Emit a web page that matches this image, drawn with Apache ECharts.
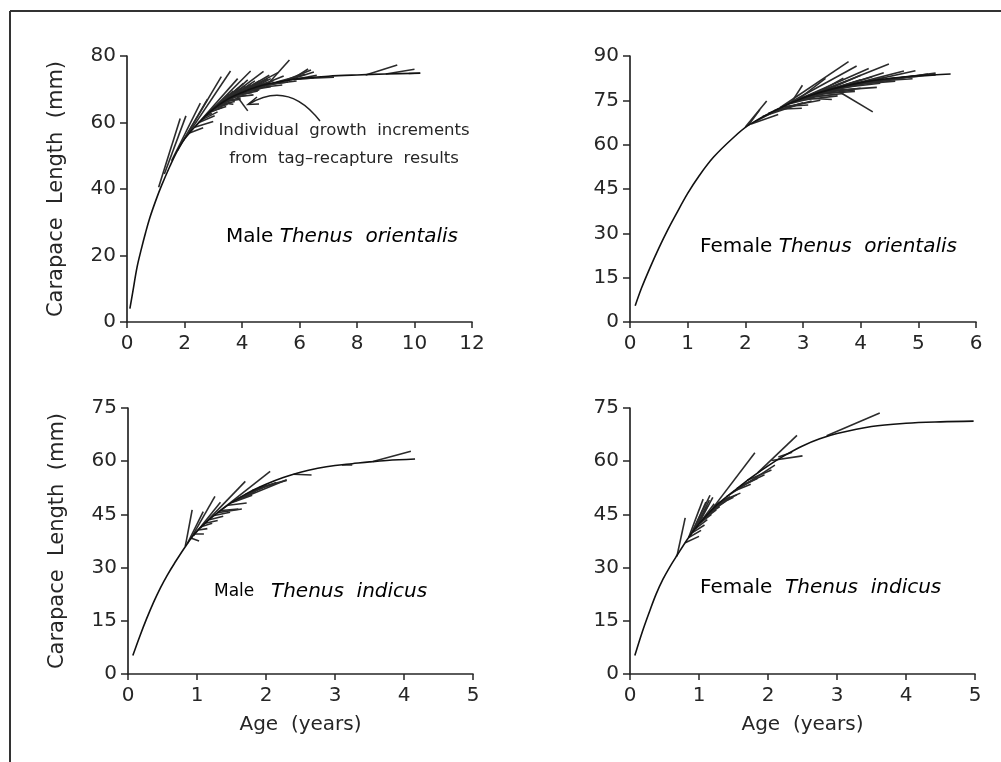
<!DOCTYPE html>
<html><head><meta charset="utf-8">
<script src="https://cdn.jsdelivr.net/npm/echarts@6/dist/echarts.min.js"></script>
<style>html,body{margin:0;padding:0;background:#fff}#c{width:1001px;height:762px}</style>
</head><body><div id="c"></div>
<script>
// ---- Tick settings ----
const xTicksTop = {left:[0,12,2], right:[0,6,1]};
const xTicksBottom = [0,5,1];
const yTicksTop = {left:[0,80,20], right:[0,90,15]};
const yTicksBottom = [0,75,15];

// ---- Male Thenus orientalis ----
const maleOriCurve = [[0.1,4],[0.2,9],[0.35,16.5],[0.5,22],[0.65,27],[0.8,31.5],[1.0,36.5],[1.2,41],[1.5,47],[1.75,51.5],[2,55],[2.5,60],[3,64],[3.5,67],[4,69],[4.5,70.7],[5,71.8],[6,73.2],[7,73.9],[8,74.3],[9,74.6],[10.2,74.8]];
const maleOriSegs = [
[1.1,40.5,1.85,61.2],[1.3,44.5,2.05,62],[1.55,48.5,2.55,65.8],[1.75,51.5,2.8,67],[1.95,54.5,3.28,73.8],
[2.15,56.8,3.6,75.5],[2.4,59,3.85,73.2],[2.6,60.8,4.3,75.5],[2.8,62.5,4.05,71.8],[3.0,64,4.75,75.4],
[3.2,65.3,4.45,72.5],[3.4,66.4,4.95,74.2],[3.55,67.2,5.25,75],[3.7,67.9,4.9,73],[3.9,68.6,5.45,74],
[4.1,69.3,5.1,72.6],[4.3,69.9,5.0,73.2],
[2.15,56.8,2.65,58.4],[2.35,58.6,3.0,60.3],[2.5,60,3.05,62],[2.7,61.7,2.95,62.8],[2.9,63.3,3.45,64.8],
[3.1,64.6,3.6,66],[3.3,65.9,3.7,65.5],[3.35,66.2,3.95,67],[3.8,68.2,4.2,63.5],[3.6,67.5,4.4,68.3],
[3.75,68,4.55,69.5],[3.95,68.8,4.7,70.4],[4.2,69.6,5.0,70.8],[4.4,70.3,5.4,71.3],[4.6,70.9,5.6,72.2],
[4.7,71.1,5.1,71.5],[4.9,71.6,5.65,78.8],[5.5,72.6,6.4,75.8],[5.6,72.7,6.5,75.2],[5.7,72.8,6.3,76.1],
[5.8,72.9,6.6,74.2],[5.9,73,6.5,73.4],[6.0,73.2,7.2,73.6],[8.3,74.3,9.4,77.3],[9.0,74.6,10.0,76],[9.8,74.75,10.2,74.9],
[3.05,64.4,3.9,70.5],[3.25,65.6,4.1,71],[3.45,66.7,4.3,71.5],[3.65,67.7,4.6,72.5],[3.85,68.4,4.7,71.8],
[4.05,69.1,4.9,72],[3.15,65,3.8,68],[3.5,67,4.2,69.5],[3.7,67.9,4.5,70.2],[4.0,69,4.8,70.8],
[4.5,70.7,5.3,72],[2.95,63.6,3.7,69.5],[3.35,66.2,4.2,72.8],[2.75,62.2,3.55,68.5],[4.8,71.4,5.9,72.5],[5.2,72.2,6.2,74.5],
[3.0,64,3.5,65.5],[3.2,65.3,3.75,66.3],[3.4,66.4,3.95,67.4],[3.6,67.5,4.15,68.2],[3.8,68.2,4.35,69],
[4.0,69,4.6,69.8],[3.1,64.6,3.7,67.2],[3.3,65.9,3.9,68.3],[3.5,67,4.1,69.3],[3.7,67.9,4.3,70.2],
[3.9,68.6,4.5,71],[2.85,62.9,3.3,64.5],[2.6,60.8,3.15,63.2]
];

// ---- Female Thenus orientalis ----
const femOriCurve = [[0.09,5.5],[0.2,11.5],[0.35,18.5],[0.5,25],[0.65,31],[0.8,36.5],[1.0,43.5],[1.2,49.5],[1.45,55.8],[1.8,62.5],[2.05,66.5],[2.5,71.5],[3.0,75.8],[3.5,78.8],[4.0,81],[4.5,82.4],[5.0,83.3],[5.56,83.9]];
const femOriSegs = [
[2.6,72.5,3.79,88.1],[2.75,74,3.93,86.6],[2.95,75.5,4.14,85.8],[3.1,76.5,4.49,87.3],[3.3,77.7,4.75,84.9],
[3.5,78.8,4.95,85],[3.7,79.7,5.17,83.9],[3.9,80.6,5.3,84.2],[3.6,79.3,4.4,84.3],[2.9,75.1,3.39,82.4],
[2.8,74.3,2.99,80.1],[3.2,77.1,3.7,82.5],[3.35,78,4.0,83.5],
[3.67,77.4,4.21,71.1],[2.0,66,2.37,74.8],[2.05,66.5,2.25,71.8],[2.1,67,2.57,70.2],[2.15,67.6,2.6,72.2],
[2.3,69.5,2.9,73.4],[2.55,72,2.98,72.3],[2.65,72.9,3.09,73.4],[3.0,75.8,3.5,75.3],
[2.7,73.5,3.2,76],[2.85,74.8,3.6,76.5],[3.0,75.8,3.55,77],[3.15,76.8,3.9,78.5],[3.25,77.4,4.0,79.1],
[3.4,78.2,4.28,79.4],[3.55,79,4.34,80.8],[3.75,80,4.5,81.8],[4.0,81,4.8,82.8],[4.2,81.7,5.0,83.2],[4.5,82.4,5.3,83.6],
[2.8,74.3,3.6,78.5],[2.9,75.1,3.7,79.5],[3.05,76.2,3.85,80.2],[3.2,77.1,4.1,80.8],[2.7,73.5,3.4,79],
[2.95,75.5,3.75,81.5],[3.1,76.5,4.0,82],[3.3,77.7,4.2,83],[3.45,78.5,4.4,82.6],[2.6,72.5,3.3,75],
[3.0,75.8,3.7,77.3],[3.2,77.1,3.9,78],[2.5,71.5,3.15,74.8],[2.4,70.6,3.0,74.2],[3.8,80.2,4.6,81.5],[4.1,81.3,4.9,82.3]
];

// ---- Male Thenus indicus ----
const maleIndCurve = [[0.07,5.2],[0.17,10.6],[0.27,15.6],[0.37,20.2],[0.47,24.3],[0.57,27.9],[0.67,31.1],[0.83,35.9],[1.0,40.3],[1.25,44.7],[1.5,48.3],[1.75,51.2],[2.0,53.5],[2.25,55.4],[2.5,56.9],[2.75,58],[3.0,58.8],[3.25,59.3],[3.5,59.8],[3.75,60.2],[4.16,60.6]];
const maleIndSegs = [
[0.83,36,0.93,46.3],[0.86,36.8,1.09,45.8],[0.9,37.8,1.26,50.1],[0.95,39,1.34,48.4],[1.05,41.2,1.7,54.3],
[1.3,45.5,2.06,57.1],[1.55,48.8,2.3,54.8],[1.7,50.6,2.15,54],
[0.92,38.3,1.03,37.5],[0.97,39.6,1.1,39.6],[1.02,40.6,1.15,41],[1.07,41.6,1.22,42.5],[1.12,42.5,1.3,43.3],
[1.18,43.5,1.38,44.5],[1.25,44.7,1.48,45.6],[1.35,46.1,1.6,46.5],[1.3,45.5,1.65,46.5],[1.45,47.6,1.72,48.2],
[1.5,48.3,1.8,50.4],[1.55,48.8,1.85,51.5],[1.6,49.5,1.95,52.5],[1.8,51.7,2.15,53.8],[1.9,52.6,2.3,54.6],
[2.4,56.3,2.66,56.1],[3.1,59,3.25,59.1],[3.55,59.9,4.1,62.8]
];

// ---- Female Thenus indicus ----
const femIndCurve = [[0.07,5.2],[0.18,12],[0.29,18],[0.38,22.6],[0.48,26.8],[0.58,30.3],[0.68,33.4],[0.85,38.5],[1.0,42.3],[1.25,47.5],[1.5,51.5],[1.75,55.3],[2.0,58.7],[2.25,61.7],[2.5,64.3],[2.75,66.3],[3.0,67.8],[3.5,69.8],[4.0,70.7],[4.5,71.1],[4.98,71.3]];
const femIndSegs = [
[0.68,33.2,0.8,44],[0.8,37,1.0,38.8],[0.85,38.5,1.06,49.3],[0.88,39.3,1.16,50.4],[0.9,39.8,1.1,48.5],
[0.93,40.5,1.13,47.5],[0.95,41,1.05,44.5],[0.85,38.5,1.03,40.5],[0.9,39.8,1.08,42],[0.95,41,1.12,43.5],
[1.0,42.3,1.18,45],[1.05,43.4,1.25,46.3],[1.1,44.5,1.3,47.2],[1.15,45.5,1.38,48.6],[1.2,46.5,1.45,49.5],
[1.25,47.5,1.5,49.8],[1.3,48.3,1.45,50],[1.15,45.5,1.81,62.4],[1.4,50,2.1,58.9],[1.5,51.5,1.75,53.5],
[1.55,52.3,1.85,55.2],[1.6,53,1.95,56.2],[1.7,54.6,2.05,57.5],[1.85,56.7,2.42,67.3],[2.05,60.2,2.5,61.5],
[2.15,61.2,2.35,62.5],[2.85,67.2,3.62,73.6],
[0.92,40.2,1.15,49],[0.97,41.5,1.2,49.8],[1.02,42.8,1.22,48],[1.08,44,1.3,48.5],[1.3,48.3,1.55,50.5],[1.35,49,1.6,51]
];

const INK = '#262626';
const FONT = 'DejaVu Sans';
const grids = [
  {left:127, top:56, width:345, height:266},
  {left:630, top:56, width:346, height:266},
  {left:128, top:408, width:345, height:266},
  {left:630, top:408, width:345, height:266}
];
function xAxis(i, t, name){
  return {type:'value', gridIndex:i, min:t[0], max:t[1], interval:t[2],
    name:name||'', nameLocation:'middle', nameGap:41,
    nameTextStyle:{fontFamily:FONT, fontSize:20, color:INK},
    axisLine:{lineStyle:{color:INK, width:1.7}},
    axisTick:{show:true, inside:false, length:6, lineStyle:{color:INK, width:1.5}},
    axisLabel:{fontFamily:FONT, fontSize:20, color:INK, margin:12},
    splitLine:{show:false}};
}
function yAxis(i, t, name){
  return {type:'value', gridIndex:i, min:t[0], max:t[1], interval:t[2],
    name:name||'', nameLocation:'middle', nameGap:60, nameRotate:90,
    nameTextStyle:{fontFamily:FONT, fontSize:21, color:INK},
    axisLine:{show:true, lineStyle:{color:INK, width:1.7}},
    axisTick:{show:true, inside:false, length:7, lineStyle:{color:INK, width:1.5}},
    axisLabel:{fontFamily:FONT, fontSize:20, color:INK, margin:11},
    splitLine:{show:false}};
}
const yName = 'Carapace  Length  (mm)';
const xName = 'Age  (years)';
function curveSeries(i, data){
  return {type:'line', xAxisIndex:i, yAxisIndex:i, data:data, smooth:0.35, showSymbol:false, symbol:'none',
    lineStyle:{color:'#111', width:1.6}, silent:true, z:3};
}
function segSeries(i, segs){
  return {type:'lines', coordinateSystem:'cartesian2d', xAxisIndex:i, yAxisIndex:i,
    data:segs.map(s=>({coords:[[s[0],s[1]],[s[2],s[3]]]})),
    lineStyle:{color:'#2b2b2b', width:1.6, opacity:1}, silent:true, z:2};
}
const rich = {
  n:{fontFamily:FONT, fontSize:20, color:INK},
  s:{fontFamily:FONT, fontSize:17, color:INK},
  it:{fontFamily:FONT, fontSize:20, fontStyle:'italic', color:INK}
};
function label(x, y, text){
  return {type:'text', x:x, y:y, style:{text:text, rich:rich, verticalAlign:'middle', align:'left'}, z:10};
}
const chart = echarts.init(document.getElementById('c'), null, {renderer:'canvas'});
chart.setOption({
  backgroundColor:'#fff',
  animation:false,
  grid:grids,
  xAxis:[xAxis(0,xTicksTop.left), xAxis(1,xTicksTop.right), xAxis(2,xTicksBottom,xName), xAxis(3,xTicksBottom,xName)],
  yAxis:[yAxis(0,yTicksTop.left,yName), yAxis(1,yTicksTop.right), yAxis(2,yTicksBottom,yName), yAxis(3,yTicksBottom)],
  series:[
    segSeries(0,maleOriSegs), curveSeries(0,maleOriCurve),
    segSeries(1,femOriSegs), curveSeries(1,femOriCurve),
    segSeries(2,maleIndSegs), curveSeries(2,maleIndCurve),
    segSeries(3,femIndSegs), curveSeries(3,femIndCurve)
  ],
  graphic:[
    {type:'line', shape:{x1:10,y1:11,x2:1001,y2:11}, style:{stroke:'#333', lineWidth:2}},
    {type:'line', shape:{x1:10,y1:11,x2:10,y2:762}, style:{stroke:'#333', lineWidth:2}},
    {type:'text', x:344, y:131, style:{text:'Individual  growth  increments', fontFamily:FONT, fontSize:16.5, fill:INK, align:'center', verticalAlign:'middle'}},
    {type:'text', x:344, y:159, style:{text:'from  tag\u2013recapture  results', fontFamily:FONT, fontSize:16.5, fill:INK, align:'center', verticalAlign:'middle'}},
    {type:'bezierCurve', shape:{x1:320,y1:121,cpx1:296,cpy1:90,cpx2:272,cpy2:90,x2:249,y2:104}, style:{stroke:'#222', lineWidth:1.5, fill:null}},
    {type:'polyline', shape:{points:[[257,97],[248,104.5],[259,104]]}, style:{stroke:'#222', lineWidth:1.5, fill:null}},
    label(226, 237, '{n|Male }{it|Thenus  orientalis}'),
    label(700, 247, '{n|Female }{it|Thenus  orientalis}'),
    label(214, 592, '{s|Male}     {it|Thenus  indicus}'),
    label(700, 588, '{n|Female  }{it|Thenus  indicus}')
  ]
});
</script></body></html>
